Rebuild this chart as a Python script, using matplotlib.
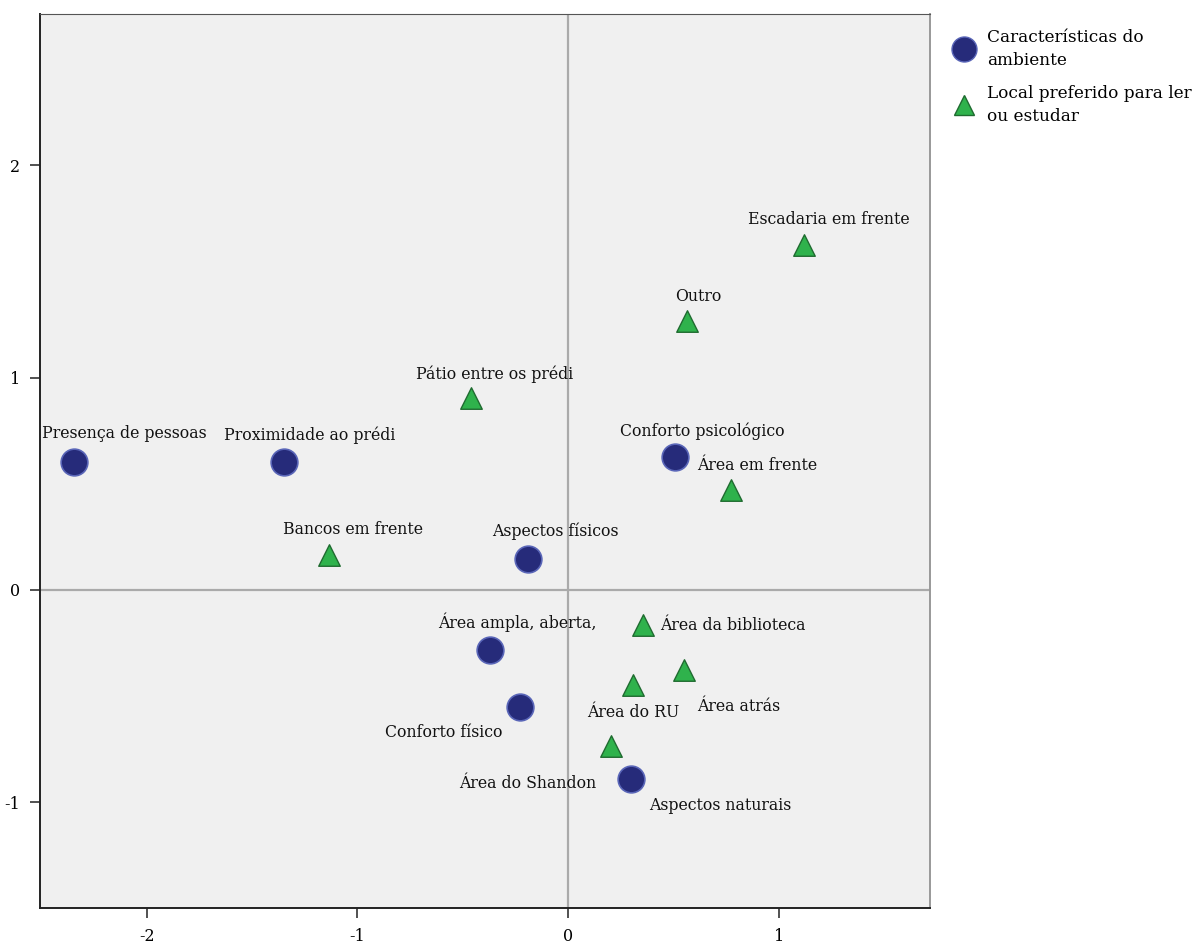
import matplotlib
matplotlib.use("Agg")
import matplotlib.pyplot as plt
from matplotlib.lines import Line2D

plt.rcParams['font.family'] = ['DejaVu Serif']
plt.rcParams['axes.unicode_minus'] = False

# Características do ambiente
amb_labels = ["Presença de pessoas", "Proximidade ao prédi", "Conforto psicológico",
              "Aspectos físicos", "Área ampla, aberta,", "Conforto físico",
              "Aspectos naturais"]
amb_x = [-2.345, -1.348, 0.508, -0.19, -0.37, -0.228, 0.299]
amb_y = [0.603, 0.603, 0.626, 0.146, -0.283, -0.551, -0.89]

# Local preferido para ler ou estudar
loc_labels = ["Escadaria em frente", "Outro", "Pátio entre os prédi", "Área em frente",
              "Bancos em frente", "Área da biblioteca", "Área atrás", "Área do RU",
              "Área do Shandon"]
loc_x = [1.12, 0.565, -0.46, 0.774, -1.134, 0.356, 0.55, 0.308, 0.204]
loc_y = [1.625, 1.267, 0.904, 0.471, 0.165, -0.165, -0.377, -0.447, -0.735]

xticks = [-2, -1, 0, 1]
yticks = [-1, 0, 1, 2]

# label offsets in pixels (dx, dy up)
amb_off = [(50, 28), (26, 27), (27, 26), (27, 28), (27, 28), (-76, -26), (89, -27)]
loc_off = [(25, 25), (11, 24), (24, 24), (26, 24), (24, 25), (90, 0), (55, -36),
           (0, -28), (-83, -37)]

fig = plt.figure(figsize=(11.97, 9.47), dpi=100)
ax = fig.add_axes([40 / 1197, 1 - 908 / 947, 890 / 1197, 894 / 947])
ax.set_facecolor("#f0f0f0")
ax.set_xlim(-2.506, 1.718)
ax.set_ylim(-1.498, 2.713)

ax.axhline(0, color="#aaaaaa", lw=1.6, zorder=1)
ax.axvline(0, color="#aaaaaa", lw=1.6, zorder=1)

ax.scatter(amb_x, amb_y, s=370, marker="o", facecolor="#262b7a",
           edgecolor="#5a66b8", linewidth=1.2, zorder=3)
ax.scatter(loc_x, loc_y, s=240, marker="^", facecolor="#2fb24c",
           edgecolor="#1f6b30", linewidth=1.0, zorder=3)

for lab, x, y, off in zip(amb_labels, amb_x, amb_y, amb_off):
    ax.annotate(lab, (x, y), xytext=(off[0] * 0.72, off[1] * 0.72),
                textcoords="offset points", ha="center", va="center",
                fontsize=11.3, color="#111111", zorder=4)
for lab, x, y, off in zip(loc_labels, loc_x, loc_y, loc_off):
    ax.annotate(lab, (x, y), xytext=(off[0] * 0.72, off[1] * 0.72),
                textcoords="offset points", ha="center", va="center",
                fontsize=11.3, color="#111111", zorder=4)

ax.set_xticks(xticks)
ax.set_yticks(yticks)
ax.tick_params(length=7.5, width=1.2, color="#333333", labelsize=11.5, pad=7)
ax.spines["left"].set_color("#222222")
ax.spines["bottom"].set_color("#222222")
ax.spines["left"].set_linewidth(1.4)
ax.spines["bottom"].set_linewidth(1.4)
ax.spines["top"].set_color("#555555")
ax.spines["right"].set_color("#999999")
ax.spines["right"].set_linewidth(1.4)

handles = [
    Line2D([], [], marker="o", ls="", markersize=18, markerfacecolor="#262b7a",
           markeredgecolor="#5a66b8"),
    Line2D([], [], marker="^", ls="", markersize=15, markerfacecolor="#2fb24c",
           markeredgecolor="#1f6b30"),
]
leg = fig.legend(handles, ["Características do\nambiente", "Local preferido para ler\nou estudar"],
                 loc="upper left", bbox_to_anchor=(946 / 1197, 1 - 22 / 947), frameon=False,
                 fontsize=12.2, handletextpad=0.7, labelspacing=0.95, borderaxespad=0,
                 handlelength=1.3)
for t in leg.get_texts():
    t.set_linespacing(1.45)

fig.savefig("out.png", dpi=100)
